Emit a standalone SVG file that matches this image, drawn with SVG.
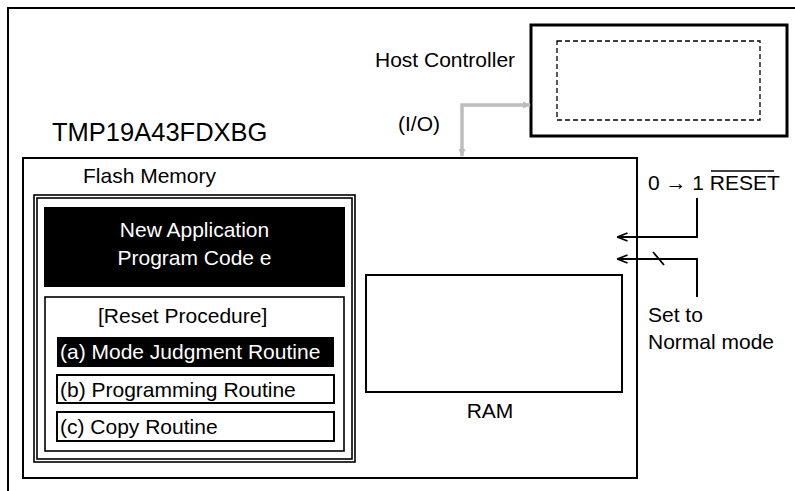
<svg xmlns="http://www.w3.org/2000/svg" width="795" height="491" viewBox="0 0 795 491">
<defs>
<style>
text{font-family:"Liberation Sans",Arial,sans-serif;font-size:21px;fill:#000}
.box{fill:none;stroke:#000;stroke-width:2}
.thin{fill:none;stroke:#000;stroke-width:1.6}
.wt{fill:#fff}
.conn{fill:none;stroke:#000;stroke-width:2}
.io{fill:none;stroke:#bdbdbd;stroke-width:3.5}
</style>
<marker id="open" viewBox="0 0 12 10" refX="11.5" refY="5" markerWidth="12" markerHeight="10" markerUnits="userSpaceOnUse" orient="auto">
<path d="M1,1 L11,5 L1,9" fill="none" stroke="#000" stroke-width="1.8"/>
</marker>
<marker id="gray" viewBox="0 0 8 8" refX="7" refY="4" markerWidth="8" markerHeight="8" markerUnits="userSpaceOnUse" orient="auto-start-reverse">
<path d="M0,0.5 L8,4 L0,7.5 Z" fill="#bdbdbd"/>
</marker>
</defs>
<rect width="795" height="491" fill="#fff"/>

<g id="frame">
<path d="M8,491 L8,8 L795,8" fill="none" stroke="#000" stroke-width="2"/>
</g>

<g id="host-controller">
<rect x="531" y="25" width="256" height="111" fill="none" stroke="#000" stroke-width="3"/>
<rect x="557" y="41" width="203" height="79" fill="none" stroke="#000" stroke-width="1.3" stroke-dasharray="5,3"/>
<text x="375" y="67">Host Controller</text>
</g>

<g id="chip">
<text x="52" y="141" style="font-size:25.5px">TMP19A43FDXBG</text>
<rect x="23" y="158" width="614" height="320" class="box"/>
</g>

<g id="flash-memory">
<text x="83" y="183">Flash Memory</text>
<rect x="34" y="195" width="321" height="267" class="thin"/>
<rect x="37" y="198" width="315" height="261" class="thin"/>
</g>

<g id="new-application">
<rect x="44" y="207" width="301" height="80" fill="#000"/>
<text x="194.5" y="237" text-anchor="middle" class="wt">New Application</text>
<text x="194.5" y="265" text-anchor="middle" class="wt">Program Code e</text>
</g>

<g id="reset-procedure">
<rect x="45" y="297" width="299" height="154" class="thin"/>
<text x="98" y="323">[Reset Procedure]</text>
</g>

<g id="mode-judgment">
<rect x="57" y="337" width="277" height="30" fill="#000"/>
<text x="60" y="359" class="wt">(a) Mode Judgment Routine</text>
</g>

<g id="programming-routine">
<rect x="57" y="375" width="277" height="28" class="box"/>
<text x="60" y="397">(b) Programming Routine</text>
</g>

<g id="copy-routine">
<rect x="57" y="412" width="277" height="29" class="box"/>
<text x="60" y="434">(c) Copy Routine</text>
</g>

<g id="ram">
<rect x="366" y="275" width="256" height="117" class="box"/>
<text x="490" y="418" text-anchor="middle">RAM</text>
</g>

<g id="labels">
<text x="398" y="131">(I/O)</text>
<text x="648" y="190">0 → 1 RESET</text>
<line x1="711" y1="171" x2="774" y2="171" stroke="#000" stroke-width="1.3"/>
<text x="648" y="322">Set to</text>
<text x="648" y="349">Normal mode</text>
</g>

<g id="connectors">
<path d="M462,156 L462,105 L530,105" class="io" marker-start="url(#gray)" marker-end="url(#gray)"/>
<path d="M697,198 L697,237 L617,237" class="conn" marker-end="url(#open)"/>
<path d="M697,297 L697,259 L617,259" class="conn" marker-end="url(#open)"/>
<line x1="653" y1="252" x2="664" y2="265" stroke="#000" stroke-width="1.8"/>
</g>
</svg>
